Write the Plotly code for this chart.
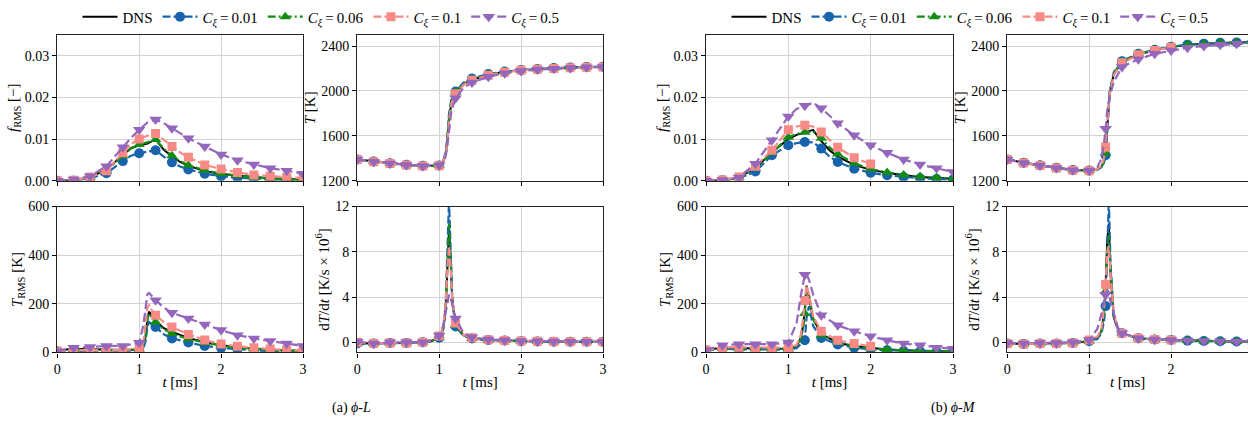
import plotly.graph_objects as go

W, H = 1248, 421
FONT = "Liberation Serif"

# ---------------- data ----------------
# (a) phi-L : f_RMS
af_t = [0, 0.2, 0.4, 0.6, 0.8, 0.9, 1.0, 1.1, 1.2, 1.3, 1.4, 1.5, 1.6, 1.8, 2.0, 2.2, 2.4, 2.6, 2.8, 3.0]
af_dns = [0, 0.0001, 0.0009, 0.0026, 0.0062, 0.0078, 0.0085, 0.0089, 0.0099, 0.0074, 0.0058, 0.0045, 0.0036, 0.0023, 0.0016, 0.0012, 0.0009, 0.0006, 0.0004, 0.0003]
af_c001 = [0, 0, 0.0006, 0.0018, 0.0047, 0.0060, 0.0066, 0.0070, 0.0073, 0.0058, 0.0044, 0.0034, 0.0027, 0.0017, 0.0011, 0.0007, 0.0005, 0.0003, 0.0002, 0.0001]
af_c006 = [0, 0.0001, 0.0008, 0.0025, 0.0060, 0.0078, 0.0087, 0.0092, 0.0099, 0.0077, 0.0060, 0.0047, 0.0037, 0.0025, 0.0017, 0.0012, 0.0008, 0.0005, 0.0003, 0.0002]
af_c01 = [0, 0.0001, 0.0009, 0.0024, 0.0067, 0.0088, 0.0100, 0.0108, 0.0113, 0.0098, 0.0082, 0.0068, 0.0056, 0.0038, 0.0028, 0.0020, 0.0014, 0.0011, 0.0008, 0.0006]
af_c05 = [0, 0.0003, 0.0011, 0.0035, 0.0080, 0.0103, 0.0122, 0.0140, 0.0147, 0.0138, 0.0126, 0.0113, 0.0102, 0.0082, 0.0063, 0.0049, 0.0039, 0.0030, 0.0024, 0.0017]

# (a) phi-L : T
aT_t = [0, 0.2, 0.4, 0.6, 0.8, 1.0, 1.05, 1.08, 1.1, 1.12, 1.15, 1.2, 1.3, 1.4, 1.6, 1.8, 2.0, 2.2, 2.4, 2.6, 2.8, 3.0]
aT_dns = [1390, 1372, 1355, 1342, 1333, 1335, 1370, 1440, 1560, 1750, 1900, 1985, 2060, 2100, 2145, 2170, 2185, 2195, 2202, 2208, 2212, 2215]
aT_c001 = [1390, 1372, 1355, 1342, 1333, 1336, 1375, 1460, 1600, 1800, 1930, 1995, 2075, 2110, 2150, 2172, 2186, 2196, 2203, 2209, 2213, 2216]
aT_c006 = [1390, 1372, 1355, 1342, 1333, 1335, 1372, 1445, 1570, 1760, 1910, 1988, 2065, 2103, 2147, 2171, 2185, 2195, 2202, 2208, 2212, 2215]
aT_c01 = [1388, 1370, 1353, 1340, 1331, 1334, 1368, 1435, 1550, 1735, 1890, 1975, 2055, 2095, 2140, 2167, 2183, 2193, 2200, 2206, 2211, 2214]
aT_c05 = [1388, 1370, 1353, 1340, 1331, 1338, 1365, 1420, 1510, 1660, 1830, 1935, 2030, 2075, 2125, 2158, 2178, 2190, 2198, 2205, 2210, 2214]

# (a) phi-L : T_RMS
aR_t = [0, 0.2, 0.4, 0.6, 0.8, 1.0, 1.05, 1.08, 1.1, 1.12, 1.15, 1.2, 1.3, 1.4, 1.6, 1.8, 2.0, 2.2, 2.4, 2.6, 2.8, 3.0]
aR_dns = [8, 15, 13, 11, 10, 12, 25, 70, 140, 168, 155, 130, 100, 85, 60, 42, 30, 22, 15, 11, 8, 6]
aR_c001 = [5, 8, 8, 7, 7, 8, 15, 50, 105, 125, 118, 105, 75, 58, 41, 27, 19, 13, 9, 6, 5, 4]
aR_c006 = [6, 12, 12, 10, 10, 11, 22, 70, 135, 160, 145, 125, 95, 78, 55, 40, 28, 20, 15, 11, 8, 6]
aR_c01 = [6, 10, 10, 10, 10, 15, 40, 120, 185, 195, 175, 153, 125, 105, 74, 51, 35, 26, 19, 14, 10, 8]
aR_c05 = [5, 19, 23, 27, 27, 40, 110, 200, 240, 245, 232, 215, 185, 163, 140, 115, 92, 71, 58, 47, 37, 27]

# (a) phi-L : dT/dt
aD_t = [0, 0.2, 0.4, 0.6, 0.8, 0.9, 1.0, 1.05, 1.08, 1.1, 1.12, 1.14, 1.16, 1.2, 1.3, 1.4, 1.6, 1.8, 2.0, 2.2, 2.4, 2.6, 2.8, 3.0]
aD_dns = [-0.1, -0.1, -0.05, -0.05, 0, 0.1, 0.4, 1.2, 3.0, 6.5, 10.0, 7.0, 3.8, 1.6, 0.6, 0.35, 0.2, 0.15, 0.1, 0.08, 0.06, 0.05, 0.05, 0.04]
aD_c001 = [-0.1, -0.1, -0.05, -0.05, 0, 0.1, 0.4, 1.2, 3.5, 8.0, 12.6, 8.0, 3.5, 1.4, 0.55, 0.33, 0.2, 0.15, 0.1, 0.08, 0.06, 0.05, 0.05, 0.04]
aD_c006 = [-0.1, -0.1, -0.05, -0.05, 0, 0.1, 0.4, 1.2, 3.2, 7.0, 10.5, 7.5, 3.7, 1.5, 0.6, 0.35, 0.2, 0.15, 0.1, 0.08, 0.06, 0.05, 0.05, 0.04]
aD_c01 = [0, -0.1, -0.05, -0.05, 0, 0.15, 0.55, 1.4, 3.5, 6.5, 8.5, 6.5, 3.8, 1.7, 0.65, 0.4, 0.22, 0.15, 0.12, 0.1, 0.08, 0.06, 0.05, 0.05]
aD_c05 = [0.05, -0.1, 0, 0, 0, 0.2, 0.6, 1.5, 2.6, 3.5, 4.2, 3.9, 3.3, 2.1, 0.8, 0.45, 0.25, 0.18, 0.12, 0.1, 0.08, 0.06, 0.05, 0.05]

# (b) phi-M : f_RMS
bf_t = [0, 0.2, 0.4, 0.6, 0.8, 1.0, 1.1, 1.2, 1.3, 1.4, 1.5, 1.6, 1.8, 2.0, 2.2, 2.4, 2.6, 2.8, 3.0]
bf_dns = [0, 0.0001, 0.0008, 0.0030, 0.0068, 0.0100, 0.0110, 0.0115, 0.0122, 0.0095, 0.0073, 0.0058, 0.0038, 0.0026, 0.0019, 0.0013, 0.0009, 0.0007, 0.0005]
bf_c001 = [0, 0.0001, 0.0006, 0.0022, 0.0061, 0.0085, 0.0090, 0.0093, 0.0092, 0.0077, 0.0058, 0.0045, 0.0029, 0.0019, 0.0013, 0.0009, 0.0006, 0.0004, 0.0003]
bf_c006 = [0, 0.0001, 0.0008, 0.0030, 0.0067, 0.0104, 0.0112, 0.0116, 0.0118, 0.0102, 0.0080, 0.0064, 0.0042, 0.0028, 0.0020, 0.0014, 0.0010, 0.0008, 0.0005]
bf_c01 = [0, 0.0002, 0.0009, 0.0035, 0.0073, 0.0122, 0.0130, 0.0133, 0.0130, 0.0117, 0.0098, 0.0080, 0.0055, 0.0040, None, None, None, None, None]
bf_c05 = [0, 0.0002, 0.0008, 0.0041, 0.0097, 0.0154, 0.0172, 0.0180, 0.0187, 0.0174, 0.0157, 0.0138, 0.0109, 0.0085, 0.0067, 0.0051, 0.0039, 0.0030, 0.0021]

# (b) phi-M : T
bT_t = [0, 0.2, 0.4, 0.6, 0.8, 1.0, 1.1, 1.15, 1.18, 1.2, 1.22, 1.25, 1.3, 1.4, 1.6, 1.8, 2.0, 2.2, 2.4, 2.6, 2.8, 3.0]
bT_dns = [1390, 1360, 1337, 1316, 1295, 1290, 1300, 1325, 1370, 1430, 1650, 1980, 2150, 2255, 2325, 2362, 2390, 2410, 2420, 2428, 2432, 2435]
bT_c001 = [1390, 1360, 1337, 1316, 1295, 1290, 1298, 1320, 1362, 1427, 1620, 1990, 2165, 2265, 2332, 2366, 2393, 2412, 2421, 2428, 2432, 2435]
bT_c006 = [1390, 1360, 1337, 1316, 1295, 1290, 1300, 1323, 1370, 1448, 1650, 1985, 2160, 2260, 2330, 2364, 2391, 2411, 2420, 2428, 2432, 2435]
bT_c01 = [1388, 1358, 1335, 1314, 1293, 1288, 1302, 1335, 1400, 1500, 1700, 1970, 2140, 2250, 2322, 2360, 2388, None, None, None, None, None]
bT_c05 = [1388, 1358, 1335, 1314, 1293, 1290, 1320, 1400, 1530, 1663, 1820, 1950, 2080, 2214, 2282, 2330, 2360, 2385, 2400, 2410, 2420, 2428]

# (b) phi-M : T_RMS
bR_t = [0, 0.2, 0.4, 0.6, 0.8, 1.0, 1.1, 1.15, 1.18, 1.2, 1.22, 1.25, 1.3, 1.4, 1.6, 1.8, 2.0, 2.2, 2.4, 2.6, 2.8, 3.0]
bR_dns = [10, 20, 18, 15, 15, 15, 25, 60, 110, 180, 275, 230, 140, 75, 40, 26, 18, 12, 9, 7, 5, 4]
bR_c001 = [8, 15, 13, 12, 12, 12, 18, 35, 45, 50, 140, 190, 110, 60, 33, 20, 12, 9, 6, 5, 4, 3]
bR_c006 = [10, 18, 17, 15, 14, 14, 22, 55, 100, 160, 255, 240, 140, 72, 42, 26, 17, 12, 8, 6, 5, 4]
bR_c01 = [10, 20, 22, 20, 20, 20, 30, 70, 140, 214, 275, 240, 150, 87, 50, 37, 26, None, None, None, None, None]
bR_c05 = [10, 30, 34, 34, 34, 41, 120, 230, 290, 320, 323, 300, 240, 153, 112, 87, 67, 50, 37, 30, 20, 15]

# (b) phi-M : dT/dt
bD_t = [0, 0.2, 0.4, 0.6, 0.8, 1.0, 1.1, 1.15, 1.18, 1.2, 1.22, 1.24, 1.26, 1.3, 1.35, 1.4, 1.6, 1.8, 2.0, 2.2, 2.4, 2.6, 2.8, 3.0]
bD_dns = [-0.1, -0.15, -0.1, -0.1, -0.05, 0.1, 0.4, 1.0, 2.5, 5.0, 9.0, 10.5, 6.0, 2.2, 1.2, 0.8, 0.35, 0.25, 0.2, 0.15, 0.12, 0.1, 0.08, 0.05]
bD_c001 = [-0.1, -0.15, -0.1, -0.1, -0.05, 0.1, 0.3, 0.8, 1.8, 3.2, 8.0, 12.6, 7.0, 2.2, 1.2, 0.8, 0.35, 0.25, 0.2, 0.15, 0.12, 0.1, 0.08, 0.05]
bD_c006 = [-0.1, -0.15, -0.1, -0.1, -0.05, 0.1, 0.4, 1.0, 2.4, 4.5, 8.0, 9.5, 6.5, 2.4, 1.2, 0.8, 0.35, 0.25, 0.2, 0.15, 0.12, 0.1, 0.08, 0.05]
bD_c01 = [-0.1, -0.15, -0.1, -0.1, -0.05, 0.2, 0.5, 1.2, 3.0, 5.1, 8.0, 8.5, 6.0, 2.5, 1.3, 0.8, 0.35, 0.25, 0.2, None, None, None, None, None]
bD_c05 = [-0.05, -0.1, -0.05, -0.05, 0, 0.2, 1.2, 2.5, 3.6, 4.2, 4.6, 4.3, 3.6, 2.5, 1.3, 0.8, 0.35, 0.25, 0.2, 0.15, 0.12, 0.1, 0.08, 0.05]

# tick labels / axis info
x_ticks = [0, 1, 2, 3]
f_ticks = [0, 0.01, 0.02, 0.03]
T_ticks = [1200, 1600, 2000, 2400]
R_ticks = [0, 200, 400, 600]
D_ticks = [0, 4, 8, 12]

series_labels = ["DNS",
                 "<i>C</i><sub><i>ξ</i></sub>\u2009=\u20090.01",
                 "<i>C</i><sub><i>ξ</i></sub>\u2009=\u20090.06",
                 "<i>C</i><sub><i>ξ</i></sub>\u2009=\u20090.1",
                 "<i>C</i><sub><i>ξ</i></sub>\u2009=\u20090.5"]

# ---------------- styles ----------------
BLUE = "#1764ad"
GREEN = "#148c14"
SALMON = "#f88a86"
PURPLE = "#9467bd"
STY = [
    dict(color="black", dash="solid", symbol=None, size=0, width=2.0),
    dict(color=BLUE, dash="8px,3px", symbol="circle", size=10, width=2.2),
    dict(color=GREEN, dash="8px,3px,2px,3px", symbol="triangle-up", size=10, width=2.2),
    dict(color=SALMON, dash="8px,3px", symbol="square", size=9, width=2.2),
    dict(color=PURPLE, dash="9px,4px", symbol="triangle-down", size=11, width=2.2),
]

# pixel layout of subplots
cols = [(57.3, 303.0), (357.3, 603.0), (706.0, 953.0), (1007.3, 1248.0)]
rows = [(32.0, 179.0), (205.0, 352.0)]
px_per_ms = (303.0 - 57.3) / 3.0

YT_F = "<i>f</i><sub>RMS</sub> [−]"
YT_T = "<i>T</i> [K]"
YT_R = "<i>T</i><sub>RMS</sub> [K]"
YT_D = "d<i>T</i>/d<i>t</i> [K/s × 10<sup>6</sup>]"

panels = [
    (0, 0, af_t, [af_dns, af_c001, af_c006, af_c01, af_c05], [0, 0.035], f_ticks, YT_F, False, ".2f"),
    (1, 0, aT_t, [aT_dns, aT_c001, aT_c006, aT_c01, aT_c05], [1200, 2500], T_ticks, YT_T, False, "d"),
    (0, 1, aR_t, [aR_dns, aR_c001, aR_c006, aR_c01, aR_c05], [0, 600], R_ticks, YT_R, True, "d"),
    (1, 1, aD_t, [aD_dns, aD_c001, aD_c006, aD_c01, aD_c05], [-0.9, 12], D_ticks, YT_D, True, "d"),
    (2, 0, bf_t, [bf_dns, bf_c001, bf_c006, bf_c01, bf_c05], [0, 0.035], f_ticks, YT_F, False, ".2f"),
    (3, 0, bT_t, [bT_dns, bT_c001, bT_c006, bT_c01, bT_c05], [1200, 2500], T_ticks, YT_T, False, "d"),
    (2, 1, bR_t, [bR_dns, bR_c001, bR_c006, bR_c01, bR_c05], [0, 600], R_ticks, YT_R, True, "d"),
    (3, 1, bD_t, [bD_dns, bD_c001, bD_c006, bD_c01, bD_c05], [-0.9, 12], D_ticks, YT_D, True, "d"),
]

fig = go.Figure()
layout = {}
tickfont = dict(family=FONT, size=14, color="black")
titlefont = dict(family=FONT, size=15, color="black")

for i, (c, r, t, series, yr, yt, ytitle, xlab, yfmt) in enumerate(panels):
    n = i + 1
    xa = "x" if n == 1 else f"x{n}"
    ya = "y" if n == 1 else f"y{n}"
    x0, x1 = cols[c]
    y0, y1 = rows[r]
    xmax = (x1 - x0) / px_per_ms
    clipped = x1 >= W - 0.5
    xaxis = dict(
        domain=[x0 / W, x1 / W], anchor=ya, range=[0, xmax if clipped else 3],
        tickvals=x_ticks, showticklabels=xlab, ticks="outside", ticklen=4, tickcolor="black",
        showline=True, linecolor="#222", linewidth=1.3, mirror=True,
        showgrid=True, gridcolor="#d3d3d3", gridwidth=1, zeroline=False,
        tickfont=tickfont, automargin=False,
    )
    if xlab:
        xaxis["title"] = dict(text="<i>t</i> [ms]", font=titlefont, standoff=0)
    layout["xaxis" if n == 1 else f"xaxis{n}"] = xaxis
    layout["yaxis" if n == 1 else f"yaxis{n}"] = dict(
        domain=[1 - y1 / H, 1 - y0 / H], anchor=xa, range=yr,
        tickvals=yt, tickformat=yfmt, ticks="outside", ticklen=4, tickcolor="black",
        showline=True, linecolor="#222", linewidth=1.3, mirror=(not clipped),
        showgrid=True, gridcolor="#d3d3d3", gridwidth=1, zeroline=False,
        tickfont=tickfont, automargin=False,
        title=dict(text=ytitle, font=titlefont, standoff=2),
    )
    for k, (vals, s) in enumerate(zip(series, STY)):
        fig.add_trace(go.Scatter(
            x=t, y=vals, mode="lines", xaxis=xa, yaxis=ya, showlegend=False,
            line=dict(color=s["color"], width=s["width"], dash=s["dash"]),
            connectgaps=False, hoverinfo="skip"))
        if s["symbol"]:
            keep = [(tt, v) for tt, v in zip(t, vals)
                    if v is not None and abs(tt / 0.2 - round(tt / 0.2)) < 1e-6]
            fig.add_trace(go.Scatter(
                x=[p[0] for p in keep], y=[p[1] for p in keep], mode="markers",
                xaxis=xa, yaxis=ya, showlegend=False,
                marker=dict(color=s["color"], symbol=s["symbol"], size=s["size"], line=dict(width=0)),
                hoverinfo="skip"))

# legend-only entries (one legend per group)
for leg in ["legend", "legend2"]:
    for lab, s in zip(series_labels, STY):
        fig.add_trace(go.Scatter(
            x=[None], y=[None], mode="lines+markers" if s["symbol"] else "lines",
            name=lab, legend=leg, xaxis="x", yaxis="y",
            line=dict(color=s["color"], width=s["width"], dash=s["dash"]),
            marker=dict(color=s["color"], symbol=s["symbol"] or "circle", size=s["size"], line=dict(width=0))))

legend_common = dict(orientation="h", xanchor="center", yanchor="middle",
                     font=dict(family=FONT, size=15, color="black"),
                     bgcolor="rgba(0,0,0,0)", itemwidth=35, tracegroupgap=0)

layout["legend"] = dict(x=321 / W, y=1 - 14 / H, **legend_common)
layout["legend2"] = dict(x=970 / W, y=1 - 14 / H, **legend_common)

fig.update_layout(
    width=W, height=H, margin=dict(l=0, r=0, t=0, b=0),
    paper_bgcolor="white", plot_bgcolor="white",
    font=dict(family=FONT, size=14, color="black"),
    **layout,
)

fig.add_annotation(text="(a) <i>ϕ</i>-<i>L</i>", x=330 / W, y=1 - 408 / H, xref="paper", yref="paper",
                   yanchor="middle", showarrow=False, font=dict(family=FONT, size=14, color="black"))
fig.add_annotation(text="(b) <i>ϕ</i>-<i>M</i>", x=978 / W, y=1 - 408 / H, xref="paper", yref="paper",
                   yanchor="middle", showarrow=False, font=dict(family=FONT, size=14, color="black"))

fig.write_html("out.html", config={"displayModeBar": False},
               post_script="document.body.style.margin='0';document.body.style.overflow='hidden';")
